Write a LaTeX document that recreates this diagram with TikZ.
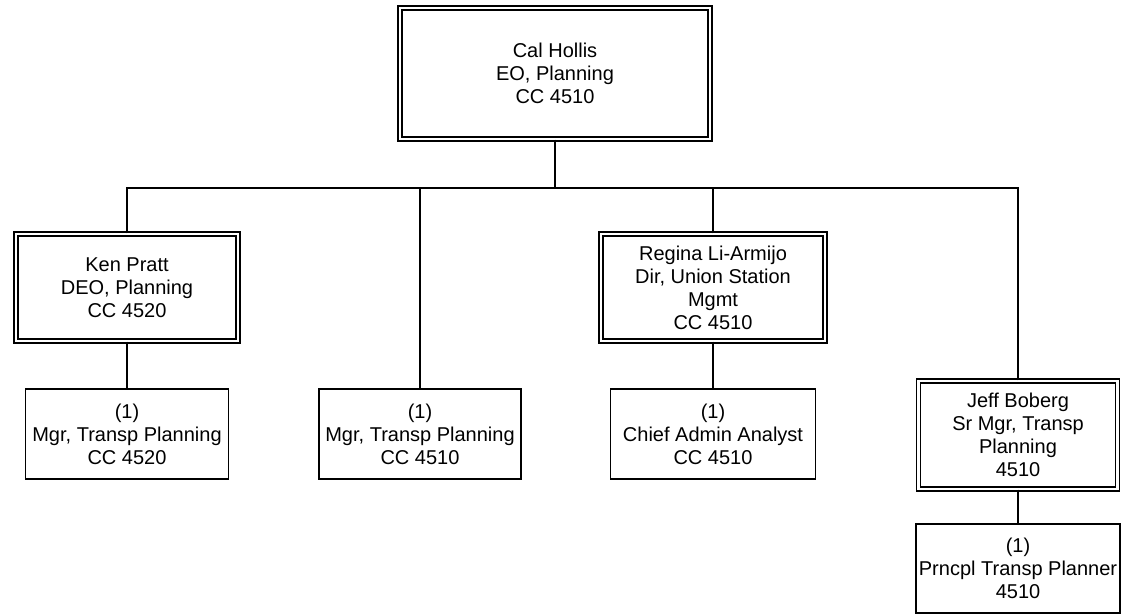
\documentclass[tikz,border=0pt]{standalone}
\usepackage{fontspec}
\setmainfont{Liberation Sans}

\begin{document}
\begin{tikzpicture}[x=0.5pt, y=-0.5pt,
  head/.style={draw=black, double=white, double distance=1.4pt, line width=0.6pt,
    rectangle, inner sep=0pt, align=center, font=\fontsize{10}{11.5}\selectfont},
  post/.style={draw=black, line width=0.6pt, fill=white,
    rectangle, inner sep=0pt, align=center, font=\fontsize{10}{11.5}\selectfont},
  link/.style={draw=black, line width=0.6pt},
]
\useasboundingbox (0,0) rectangle (1123,614);

%--- Executive office ---
\node[head, minimum width=155pt, minimum height=65.5pt] (hollis) at (555,73.5)
  {Cal Hollis\\EO, Planning\\CC 4510};
\coordinate (bus) at (555,188);
\draw[link] (hollis.south) -- (bus);

%--- Direct reports ---
\node[head, minimum width=111pt, minimum height=53.5pt] (pratt) at (127,287.5)
  {Ken Pratt\\DEO, Planning\\CC 4520};
\node[post, minimum width=101pt, minimum height=45pt] (mgrcc) at (420,434)
  {(1)\\Mgr, Transp Planning\\CC 4510};
\node[head, minimum width=112pt, minimum height=53.5pt] (armijo) at (713,287.5)
  {Regina Li-Armijo\\Dir, Union Station\\Mgmt\\CC 4510};
\node[head, minimum width=99.5pt, minimum height=54pt] (boberg) at (1018,435)
  {Jeff Boberg\\Sr Mgr, Transp\\Planning\\4510};

\draw[link] (pratt.north)  |- (bus);
\draw[link] (mgrcc.north)  |- (bus);
\draw[link] (armijo.north) |- (bus);
\draw[link] (boberg.north) |- (bus);

%--- Staff positions ---
\node[post, minimum width=101.5pt, minimum height=45pt] (mgrpr) at (127,434)
  {(1)\\Mgr, Transp Planning\\CC 4520};
\node[post, minimum width=102.5pt, minimum height=45pt] (analyst) at (713,434)
  {(1)\\Chief Admin Analyst\\CC 4510};
\node[post, minimum width=102pt, minimum height=44.5pt] (planner) at (1018,568.5)
  {(1)\\Prncpl Transp Planner\\4510};

\draw[link] (pratt)  -- (mgrpr);
\draw[link] (armijo) -- (analyst);
\draw[link] (boberg) -- (planner);

\end{tikzpicture}
\end{document}
